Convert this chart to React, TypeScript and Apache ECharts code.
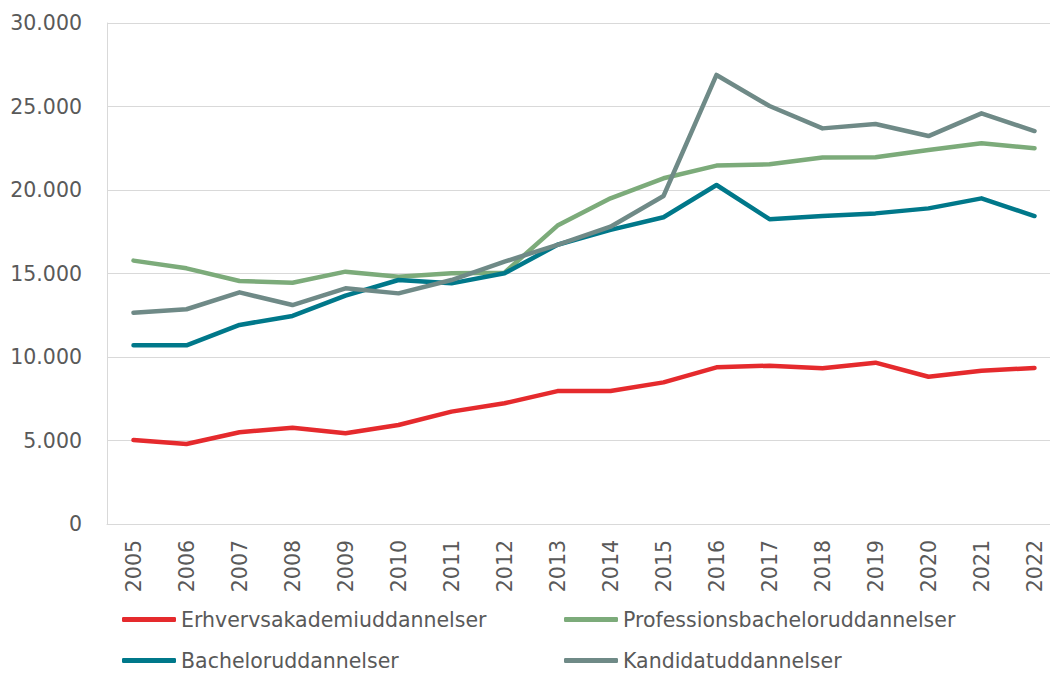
import React, { useEffect, useRef } from "react";
import * as echarts from "echarts";

const years = ["2005","2006","2007","2008","2009","2010","2011","2012","2013","2014","2015","2016","2017","2018","2019","2020","2021","2022"];
const erhverv = [5030,4790,5490,5770,5430,5930,6730,7230,7960,7960,8480,9380,9480,9320,9660,8820,9180,9340];
const professions = [15770,15310,14550,14450,15110,14810,15010,15050,17870,19500,20700,21460,21540,21940,21960,22400,22800,22500];
const bachelor = [10700,10700,11920,12460,13670,14610,14410,15010,16720,17610,18370,20300,18250,18440,18600,18900,19500,18440];
const kandidat = [12650,12860,13870,13110,14110,13810,14610,15710,16720,17800,19640,26890,25030,23690,23950,23230,24590,23530];
const seriesNames = ["Erhvervsakademiuddannelser","Professionsbacheloruddannelser","Bacheloruddannelser","Kandidatuddannelser"];
const seriesData = [erhverv, professions, bachelor, kandidat];
const colors = ["#e52a2d", "#7cab7a", "#00788a", "#6f8a87"];
const yTicks = { min: 0, max: 30000, interval: 5000 };

const FONT = "DejaVu Sans";

export default function App() {
  const ref = useRef<HTMLDivElement>(null);
  useEffect(() => {
    if (!ref.current) return;
    const chart = echarts.init(ref.current, null, { renderer: "svg" });
    const legendPos = [
      { left: 122, top: 609 },
      { left: 564, top: 609 },
      { left: 122, top: 650 },
      { left: 564, top: 650 },
    ];
    chart.setOption({
      animation: false,
      backgroundColor: "#ffffff",
      grid: { left: 107, right: -11, top: 23, bottom: 150, containLabel: false, outerBoundsMode: "none" },
      legend: seriesNames.map((n, i) => ({
        data: [n],
        left: legendPos[i].left,
        top: legendPos[i].top,
        padding: 0,
        icon: "roundRect",
        itemWidth: 54,
        itemHeight: 5,
        selectedMode: false,
        textStyle: { fontFamily: FONT, fontSize: 20.5, color: "#595959" },
      })),
      xAxis: {
        type: "category",
        data: years,
        boundaryGap: true,
        axisLine: { show: true, lineStyle: { color: "#d9d9d9", width: 1 } },
        axisTick: { show: false },
        axisLabel: { rotate: 90, margin: 16, fontFamily: FONT, fontSize: 20.5, color: "#595959", interval: 0 },
      },
      yAxis: {
        type: "value",
        min: yTicks.min,
        max: yTicks.max,
        interval: yTicks.interval,
        axisLine: { show: true, lineStyle: { color: "#d9d9d9", width: 1 } },
        axisTick: { show: false },
        splitLine: { show: true, lineStyle: { color: "#d9d9d9", width: 1 } },
        axisLabel: {
          margin: 25,
          fontFamily: FONT,
          fontSize: 20.5,
          color: "#595959",
          formatter: (v: number) => (v === 0 ? "0" : v.toString().replace(/\B(?=(\d{3})+(?!\d))/g, ".")),
        },
      },
      series: seriesNames.map((n, i) => ({
        name: n,
        type: "line",
        data: seriesData[i],
        symbol: "none",
        color: colors[i],
        lineStyle: { width: 4.5, color: colors[i], cap: "round", join: "round" },
      })),
    });
    return () => chart.dispose();
  }, []);
  return <div ref={ref} style={{ position: "fixed", left: 0, top: 0, width: 1050, height: 674 }} />;
}
